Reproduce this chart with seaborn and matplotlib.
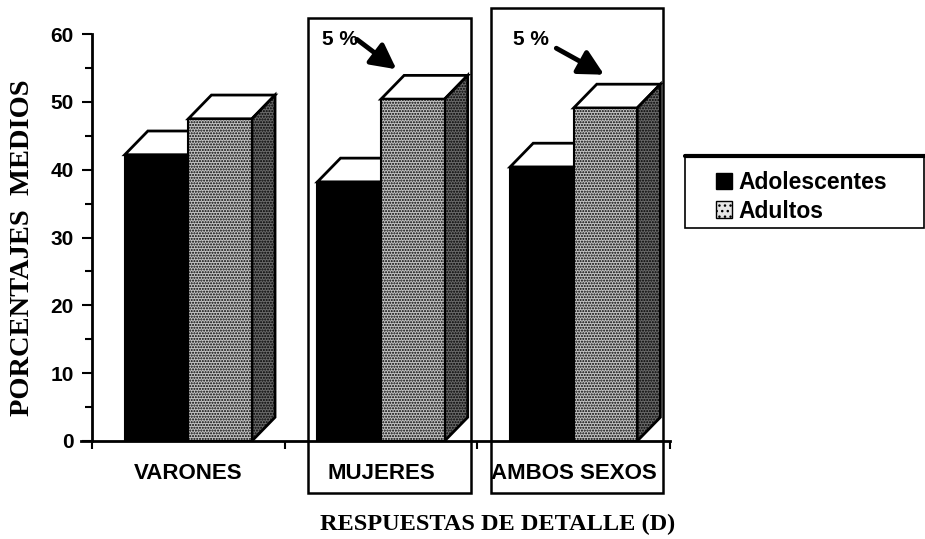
import matplotlib
matplotlib.use("Agg")
import matplotlib.pyplot as plt
import seaborn as sns
import pandas as pd
from matplotlib.patches import Polygon, Rectangle, Patch
from matplotlib.lines import Line2D

categorias = ["VARONES", "MUJERES", "AMBOS SEXOS"]
grupos = ["Adolescentes", "Adultos"]
adolescentes = [42.2, 38.2, 40.4]
adultos = [47.5, 50.4, 49.1]
y_ticks = [0, 10, 20, 30, 40, 50, 60]
anotacion = "5 %"

df = pd.DataFrame({
    "categoria": categorias * 2,
    "grupo": [grupos[0]] * 3 + [grupos[1]] * 3,
    "valor": adolescentes + adultos,
})

sns.set_theme(style="white")
plt.rcParams["font.family"] = ["Liberation Sans", "DejaVu Sans"]
plt.rcParams["hatch.color"] = "black"
for k in ["text.color", "axes.labelcolor", "xtick.color", "ytick.color"]:
    plt.rcParams[k] = "black"

fig = plt.figure(figsize=(9.25, 5.39), dpi=100)
ax = fig.add_axes([92 / 925, 1 - 441 / 539, 578 / 925, 407 / 539])

front_colors = ["black", "#c4c4c4"]
side_colors = ["black", "#6a6a6a"]
sns.barplot(data=df, x="categoria", y="valor", hue="grupo", palette=front_colors,
            width=0.66, saturation=1, ax=ax, legend=False, edgecolor="black",
            linewidth=1.5)

dx, dy = 0.12, 3.5
for gi, cont in enumerate(ax.containers):
    z = 2 + gi * 2
    for p in cont.patches:
        x0, w, h = p.get_x(), p.get_width(), p.get_height()
        p.set_zorder(z + 1)
        if gi == 1:
            p.set_hatch("......")
        top = Polygon([(x0, h), (x0 + w, h), (x0 + w + dx, h + dy), (x0 + dx, h + dy)],
                      closed=True, facecolor="white", edgecolor="black", lw=2, zorder=z)
        side = Polygon([(x0 + w, 0), (x0 + w + dx, dy), (x0 + w + dx, h + dy), (x0 + w, h)],
                       closed=True, facecolor=side_colors[gi], edgecolor="black", lw=2,
                       zorder=z, hatch="......" if gi == 1 else None)
        ax.add_patch(top)
        ax.add_patch(side)

ax.set_xlim(-0.5, 2.5)
ax.set_ylim(0, 60)
ax.set_yticks(y_ticks)
ax.set_yticklabels([str(t) for t in y_ticks], fontsize=15, fontweight="bold")
ax.set_yticks(range(5, 60, 10), minor=True)
ax.set_xticks([0, 1, 2])
ax.set_xticklabels(categorias, fontsize=16, fontweight="bold")
ax.set_xticks([-0.5, 0.5, 1.5, 2.5], minor=True)
ax.tick_params(axis="x", which="major", length=0, pad=16)
ax.tick_params(axis="x", which="minor", length=6, width=1.5, direction="out", bottom=True)
ax.tick_params(axis="y", which="major", length=7, width=1.5, direction="out", left=True, pad=6)
ax.tick_params(axis="y", which="minor", length=5, width=1.5, direction="out", left=True)
for s in ["top", "right"]:
    ax.spines[s].set_visible(False)
for s in ["left", "bottom"]:
    ax.spines[s].set_linewidth(2)
    ax.spines[s].set_color("black")
ax.spines["bottom"].set_bounds(-0.555, 2.5)
ax.set_xlabel("RESPUESTAS DE DETALLE (D)", fontsize=17.5, fontweight="bold",
              family=["Liberation Serif"], va="center")
ax.set_ylabel("PORCENTAJES  MEDIOS", fontsize=20.5, fontweight="bold",
              family=["Liberation Serif"], va="center")
ax.xaxis.set_label_coords((498 - 92) / 578, -(524 - 441) / 407)
ax.yaxis.set_label_coords((22 - 92) / 578, (441 - 248) / 407)

# framing boxes
ax.add_patch(Rectangle((0.619, -7.7), 0.85, 70.1, fill=False, lw=1.8, edgecolor="black",
                       clip_on=False, zorder=10))
ax.add_patch(Rectangle((1.572, -7.7), 0.892, 71.6, fill=False, lw=1.8, edgecolor="black",
                       clip_on=False, zorder=10))

# annotations
for tx, ty, ax0, ay0, hx, hy in [(0.785, 59.2, 0.875, 59.2, 1.08, 54.8),
                                 (1.78, 59.2, 1.91, 57.9, 2.158, 54.0)]:
    ax.text(tx, ty, anotacion, fontsize=15, fontweight="bold", ha="center", va="center",
            zorder=11)
    ax.annotate("", xy=(hx, hy), xytext=(ax0, ay0),
                arrowprops=dict(arrowstyle="-|>,head_length=1.25,head_width=0.65", lw=3.5,
                                color="black", shrinkA=0, shrinkB=0),
                zorder=11, annotation_clip=False)

# legend
handles = [Patch(facecolor="black", edgecolor="black"),
           Patch(facecolor="#e6e6e6", edgecolor="black", hatch="...")]
leg = fig.legend(handles, grupos, loc="center left",
                 bbox_to_anchor=(716 / 925, 1 - 197 / 539),
                 frameon=False, handlelength=0.7, handleheight=0.7,
                 borderpad=0, labelspacing=0.22, handletextpad=0.3,
                 borderaxespad=0, prop={"weight": "bold", "size": 16.5})
fig.add_artist(Rectangle((685 / 925, 1 - 228 / 539), 1 - 685 / 925 - 0.001, 73 / 539,
                         fill=False, edgecolor="black", lw=1.2, transform=fig.transFigure))
fig.add_artist(Line2D([685 / 925, 1.0], [1 - 156 / 539, 1 - 156 / 539], color="black", lw=3,
                      transform=fig.transFigure))

fig.savefig("out.png", dpi=100)
